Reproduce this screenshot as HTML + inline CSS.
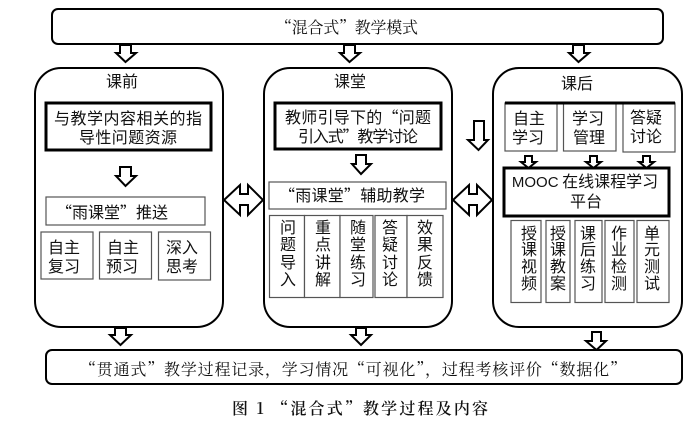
<!DOCTYPE html>
<html lang="zh-CN"><head><meta charset="utf-8">
<style>
html,body{margin:0;padding:0;background:#fff;width:700px;height:442px;overflow:hidden}
svg{display:block;filter:blur(.35px)}
text{fill:#111;text-anchor:middle;font-family:"Noto Sans CJK SC","Liberation Sans",sans-serif;font-size:16px}
.s{font-family:"Noto Serif CJK SC","Liberation Serif",serif}
.l{font-family:"Liberation Sans",sans-serif;font-size:15px}
.b{fill:#fff;stroke:#000;stroke-width:2}
.t{fill:#fff;stroke:#000;stroke-width:3}
.g{fill:#fff;stroke:#555;stroke-width:1.2}
.a{fill:#fff;stroke:#000;stroke-width:2;stroke-linejoin:miter}
</style></head><body>
<svg width="700" height="442" viewBox="0 0 700 442" xmlns="http://www.w3.org/2000/svg">
<rect class="b" x="52" y="9" width="611" height="35" rx="6"/>
<text class="s" x="347" y="33" textLength="142" lengthAdjust="spacing" style="font-size:16px">“混合式”教学模式</text>

<polygon class="a" points="120,45 131,45 131,53 136,53 125.500,62 116,53 120,53"/>
<polygon class="a" points="344,45 355,45 355,53 360,53 349.500,62 340,53 344,53"/>
<polygon class="a" points="573,45 584,45 584,53 589,53 578.500,62 569,53 573,53"/>

<rect class="b" x="35" y="68" width="188" height="259" rx="26"/>
<rect class="b" x="264" y="68" width="188" height="259" rx="26"/>
<rect class="b" x="493" y="68" width="189" height="259" rx="26"/>

<text x="122" y="87">课前</text>
<text x="350" y="87">课堂</text>
<text x="577" y="89">课后</text>

<!-- left -->
<rect class="t" x="46" y="103" width="165" height="47"/>
<text x="128" y="124" textLength="148" lengthAdjust="spacing">与教学内容相关的指</text>
<text x="128" y="143" textLength="98" lengthAdjust="spacing">导性问题资源</text>
<polygon class="a" points="120,167 131,167 131,176 136,176 125.500,186 116,176 120,176"/>
<rect class="g" x="46" y="197" width="159" height="28"/>
<text x="112" y="218" textLength="112" lengthAdjust="spacing">“雨课堂”推送</text>
<rect class="g" x="41" y="232" width="52" height="47"/>
<rect class="g" x="99.500" y="232" width="52" height="47"/>
<rect class="g" x="158.500" y="232" width="52" height="48"/>
<text x="64" y="253">自主</text><text x="64" y="272">复习</text>
<text x="123" y="253">自主</text><text x="122" y="272">预习</text>
<text x="182" y="253">深入</text><text x="182" y="272">思考</text>

<!-- middle -->
<rect class="t" x="275" y="103" width="166" height="46"/>
<text x="358" y="123" textLength="146" lengthAdjust="spacing">教师引导下的“问题</text>
<text x="358" y="142" textLength="120" lengthAdjust="spacing">引入式”教学讨论</text>
<polygon class="a" points="356,155 366,155 366,164 371,164 361,174 352,164 356,164"/>
<rect class="g" x="269" y="182" width="177" height="27"/>
<text x="352" y="201" textLength="146" lengthAdjust="spacing">“雨课堂”辅助教学</text>
<rect class="g" x="269.500" y="215.500" width="35" height="82"/>
<rect class="g" x="304.500" y="215.500" width="35.500" height="82"/>
<rect class="g" x="340" y="215.500" width="33" height="82"/>
<rect class="g" x="375" y="215.500" width="32" height="82"/>
<rect class="g" x="407" y="215.500" width="36" height="82"/>
<g>
<text x="288" y="233">问</text><text x="288" y="250">题</text><text x="288" y="268">导</text><text x="288" y="285">入</text>
<text x="323" y="233">重</text><text x="323" y="250">点</text><text x="323" y="268">讲</text><text x="323" y="285">解</text>
<text x="358" y="233">随</text><text x="358" y="250">堂</text><text x="358" y="268">练</text><text x="358" y="285">习</text>
<text x="390" y="233">答</text><text x="390" y="250">疑</text><text x="390" y="268">讨</text><text x="390" y="285">论</text>
<text x="425" y="233">效</text><text x="425" y="250">果</text><text x="425" y="268">反</text><text x="425" y="285">馈</text>
</g>

<!-- double arrows -->
<polygon class="a" points="224,200 240,185 240,194 248,194 248,185 263,200 248,215 248,205 240,205 240,215"/>
<polygon class="a" points="453,200 469,185 469,194 477,194 477,185 492,200 477,215 477,205 469,205 469,215"/>
<polygon class="a" points="474,121 484,121 484,140 488,140 478.500,150 468,140 474,140"/>

<!-- right -->
<rect class="g" x="505" y="103" width="52" height="48"/>
<rect class="g" x="563.500" y="103" width="52.500" height="48"/>
<rect class="g" x="623" y="103" width="52" height="49"/>
<line x1="505" y1="103" x2="675" y2="103" stroke="#000" stroke-width="3"/>
<text x="529" y="124">自主</text><text x="528" y="143">学习</text>
<text x="588" y="124">学习</text><text x="589" y="143">管理</text>
<text x="646" y="123">答疑</text><text x="646" y="142">讨论</text>
<polygon class="a" points="525,156 532,156 532,162 536,162 528.500,168 521,162 525,162"/>
<polygon class="a" points="590,156 597,156 597,162 601,162 593.500,168 586,162 590,162"/>
<polygon class="a" points="643,156 650,156 650,162 654,162 646.500,168 639,162 643,162"/>
<rect class="t" x="504" y="168" width="165" height="48"/>
<text x="585" y="187"><tspan class="l">MOOC</tspan> 在线课程学习</text>
<text x="586" y="207">平台</text>
<rect class="g" x="511" y="220.500" width="30" height="82"/>
<rect class="g" x="546" y="220.500" width="24" height="82"/>
<rect class="g" x="575" y="220.500" width="27" height="82"/>
<rect class="g" x="605" y="220.500" width="29" height="82"/>
<rect class="g" x="637" y="220.500" width="32" height="82"/>
<g>
<text x="529" y="239">授</text><text x="529" y="255">课</text><text x="529" y="272">视</text><text x="529" y="289">频</text>
<text x="558" y="239">授</text><text x="558" y="255">课</text><text x="558" y="272">教</text><text x="558" y="289">案</text>
<text x="588" y="239">课</text><text x="588" y="255">后</text><text x="588" y="272">练</text><text x="588" y="289">习</text>
<text x="619" y="239">作</text><text x="619" y="255">业</text><text x="619" y="272">检</text><text x="619" y="289">测</text>
<text x="652" y="239">单</text><text x="652" y="255">元</text><text x="652" y="272">测</text><text x="652" y="289">试</text>
</g>

<!-- bottom arrows -->
<polygon class="a" points="115,328 126,328 126,335 131,335 120.500,345 110,335 115,335"/>
<polygon class="a" points="356,328 366,328 366,335 371,335 361,345 351,335 356,335"/>
<polygon class="a" points="592,332 601,332 601,341 606,341 596.500,350 586,341 592,341"/>

<rect class="b" x="46" y="350" width="636" height="34" rx="6"/>
<text class="s" x="353" y="375" textLength="546" lengthAdjust="spacing">“贯通式”教学过程记录，学习情况“可视化”，过程考核评价“数据化”</text>
<text class="s" x="360" y="414" textLength="256" lengthAdjust="spacing" style="font-weight:600">图 1 “混合式”教学过程及内容</text>
</svg>
</body></html>
